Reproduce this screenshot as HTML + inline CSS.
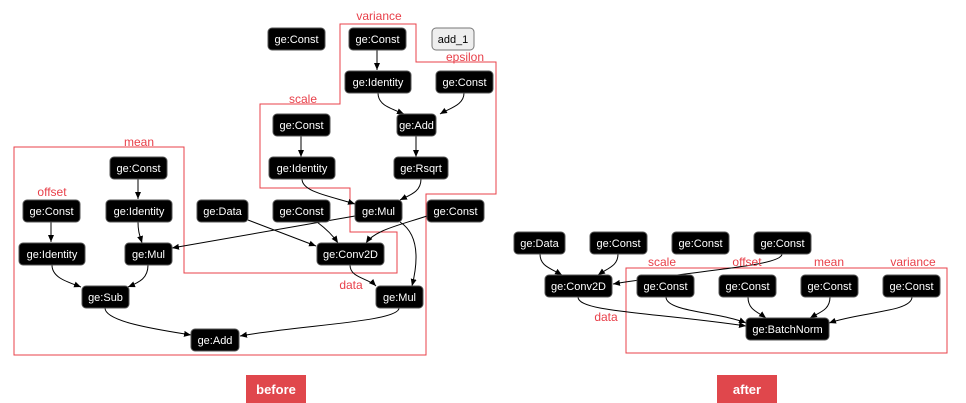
<!DOCTYPE html>
<html><head><style>
body{margin:0;background:#fff;}
svg{display:block;font-family:"Liberation Sans","DejaVu Sans",sans-serif;}
.n rect{fill:#000;stroke:#555;stroke-width:1;}
.n text{fill:#fff;font-size:11px;text-anchor:middle;}
.e{fill:none;stroke:#000;stroke-width:1;marker-end:url(#a);}
.l{fill:#e8404a;font-size:12px;text-anchor:middle;}
</style></head><body>
<svg width="966" height="403" viewBox="0 0 966 403">
<defs><marker id="a" markerWidth="8" markerHeight="8" refX="7" refY="4" orient="auto" markerUnits="userSpaceOnUse"><path d="M0,1 L7,4 L0,7 z" fill="#000"/></marker></defs>

<polygon points="340,24 416,24 416,62 496,62 496,194 426,194 426,355 14,355 14,147 184,147 184,273 397,273 397,232 350,232 350,188 260,188 260,104 340,104" fill="none" stroke="#e8404a" stroke-width="1"/>
<rect x="626" y="268" width="321" height="85" fill="none" stroke="#e8404a" stroke-width="1"/>

<g>
<path class="e" d="M377,50 L377,70"/>
<path class="e" d="M378,93 C378,105 390,108 404,114"/>
<path class="e" d="M464,93 C464,105 450,108 440,114"/>
<path class="e" d="M416,136 L416,157"/>
<path class="e" d="M301,136 L301,157"/>
<path class="e" d="M302,179 C302,192 330,196 355,204"/>
<path class="e" d="M421,179 C421,192 410,195 400,200"/>
<path class="e" d="M138,179 L138,199"/>
<path class="e" d="M51,222 L51,242"/>
<path class="e" d="M138,222 C138,232 140,236 142,243"/>
<path class="e" d="M355,216 L172,248"/>
<path class="e" d="M248,220 L316,246"/>
<path class="e" d="M317,222 C325,228 332,234 338,243"/>
<path class="e" d="M427,216 C400,225 375,230 366,243"/>
<path class="e" d="M400,222 C420,235 418,262 412,286"/>
<path class="e" d="M350,265 C350,278 368,278 376,286"/>
<path class="e" d="M52,265 C52,278 68,282 81,287"/>
<path class="e" d="M148,265 C148,278 140,282 128,287"/>
<path class="e" d="M105,308 C105,322 160,330 191,335"/>
<path class="e" d="M399,308 C399,322 300,325 240,336"/>

<path class="e" d="M540,254 C540,266 550,268 562,275"/>
<path class="e" d="M618,254 C618,266 608,268 598,275"/>
<path class="e" d="M782,254 C782,266 700,270 613,284"/>
<path class="e" d="M578,297 C578,312 650,312 746,326"/>
<path class="e" d="M666,297 C666,312 720,312 746,323"/>
<path class="e" d="M748,297 C748,310 758,312 766,318"/>
<path class="e" d="M830,297 C830,310 820,312 810,318"/>
<path class="e" d="M912,297 C912,312 860,312 829,323"/>
</g>

<g class="n">
<rect x="268" y="28" width="57" height="22" rx="4"/><text x="296.5" y="43">ge:Const</text>
<rect x="349" y="28" width="57" height="22" rx="4"/><text x="377.5" y="43">ge:Const</text>
<rect x="345" y="71" width="66" height="22" rx="4"/><text x="378" y="86">ge:Identity</text>
<rect x="436" y="71" width="57" height="22" rx="4"/><text x="464.5" y="86">ge:Const</text>
<rect x="397" y="114" width="39" height="22" rx="4"/><text x="416.5" y="129">ge:Add</text>
<rect x="273" y="114" width="57" height="22" rx="4"/><text x="301.5" y="129">ge:Const</text>
<rect x="269" y="157" width="66" height="22" rx="4"/><text x="302" y="172">ge:Identity</text>
<rect x="394" y="157" width="54" height="22" rx="4"/><text x="421" y="172">ge:Rsqrt</text>
<rect x="110" y="157" width="57" height="22" rx="4"/><text x="138.5" y="172">ge:Const</text>
<rect x="23" y="200" width="57" height="22" rx="4"/><text x="51.5" y="215">ge:Const</text>
<rect x="106" y="200" width="66" height="22" rx="4"/><text x="139" y="215">ge:Identity</text>
<rect x="197" y="200" width="51" height="22" rx="4"/><text x="222.5" y="215">ge:Data</text>
<rect x="273" y="200" width="57" height="22" rx="4"/><text x="301.5" y="215">ge:Const</text>
<rect x="355" y="200" width="47" height="22" rx="4"/><text x="378.5" y="215">ge:Mul</text>
<rect x="427" y="200" width="57" height="22" rx="4"/><text x="455.5" y="215">ge:Const</text>
<rect x="19" y="243" width="66" height="22" rx="4"/><text x="52" y="258">ge:Identity</text>
<rect x="125" y="243" width="47" height="22" rx="4"/><text x="148.5" y="258">ge:Mul</text>
<rect x="317" y="243" width="67" height="22" rx="4"/><text x="350.5" y="258">ge:Conv2D</text>
<rect x="82" y="286" width="47" height="22" rx="4"/><text x="105.5" y="301">ge:Sub</text>
<rect x="376" y="286" width="47" height="22" rx="4"/><text x="399.5" y="301">ge:Mul</text>
<rect x="191" y="329" width="48" height="22" rx="4"/><text x="215" y="344">ge:Add</text>

<rect x="514" y="232" width="51" height="22" rx="4"/><text x="539.5" y="247">ge:Data</text>
<rect x="590" y="232" width="57" height="22" rx="4"/><text x="618.5" y="247">ge:Const</text>
<rect x="672" y="232" width="57" height="22" rx="4"/><text x="700.5" y="247">ge:Const</text>
<rect x="754" y="232" width="57" height="22" rx="4"/><text x="782.5" y="247">ge:Const</text>
<rect x="545" y="275" width="67" height="22" rx="4"/><text x="578.5" y="290">ge:Conv2D</text>
<rect x="637" y="275" width="57" height="22" rx="4"/><text x="665.5" y="290">ge:Const</text>
<rect x="719" y="275" width="57" height="22" rx="4"/><text x="747.5" y="290">ge:Const</text>
<rect x="801" y="275" width="57" height="22" rx="4"/><text x="829.5" y="290">ge:Const</text>
<rect x="883" y="275" width="57" height="22" rx="4"/><text x="911.5" y="290">ge:Const</text>
<rect x="746" y="318" width="83" height="22" rx="4"/><text x="787.5" y="333">ge:BatchNorm</text>
</g>
<rect x="432" y="28" width="42" height="22" rx="4" fill="#eee" stroke="#777"/>
<text x="453" y="43" font-size="11" text-anchor="middle" fill="#000">add_1</text>

<text class="l" x="379" y="20">variance</text>
<text class="l" x="465" y="61">epsilon</text>
<text class="l" x="303" y="103">scale</text>
<text class="l" x="139" y="146">mean</text>
<text class="l" x="52" y="196">offset</text>
<text class="l" x="351" y="289">data</text>
<text class="l" x="662" y="266">scale</text>
<text class="l" x="747" y="266">offset</text>
<text class="l" x="829" y="266">mean</text>
<text class="l" x="913" y="266">variance</text>
<text class="l" x="606" y="321">data</text>

<rect x="246" y="375" width="60" height="28" fill="#e0474c"/>
<text x="276" y="394" fill="#fff" font-size="13" font-weight="bold" text-anchor="middle">before</text>
<rect x="717" y="375" width="60" height="28" fill="#e0474c"/>
<text x="747" y="394" fill="#fff" font-size="13" font-weight="bold" text-anchor="middle">after</text>
</svg>
</body></html>
